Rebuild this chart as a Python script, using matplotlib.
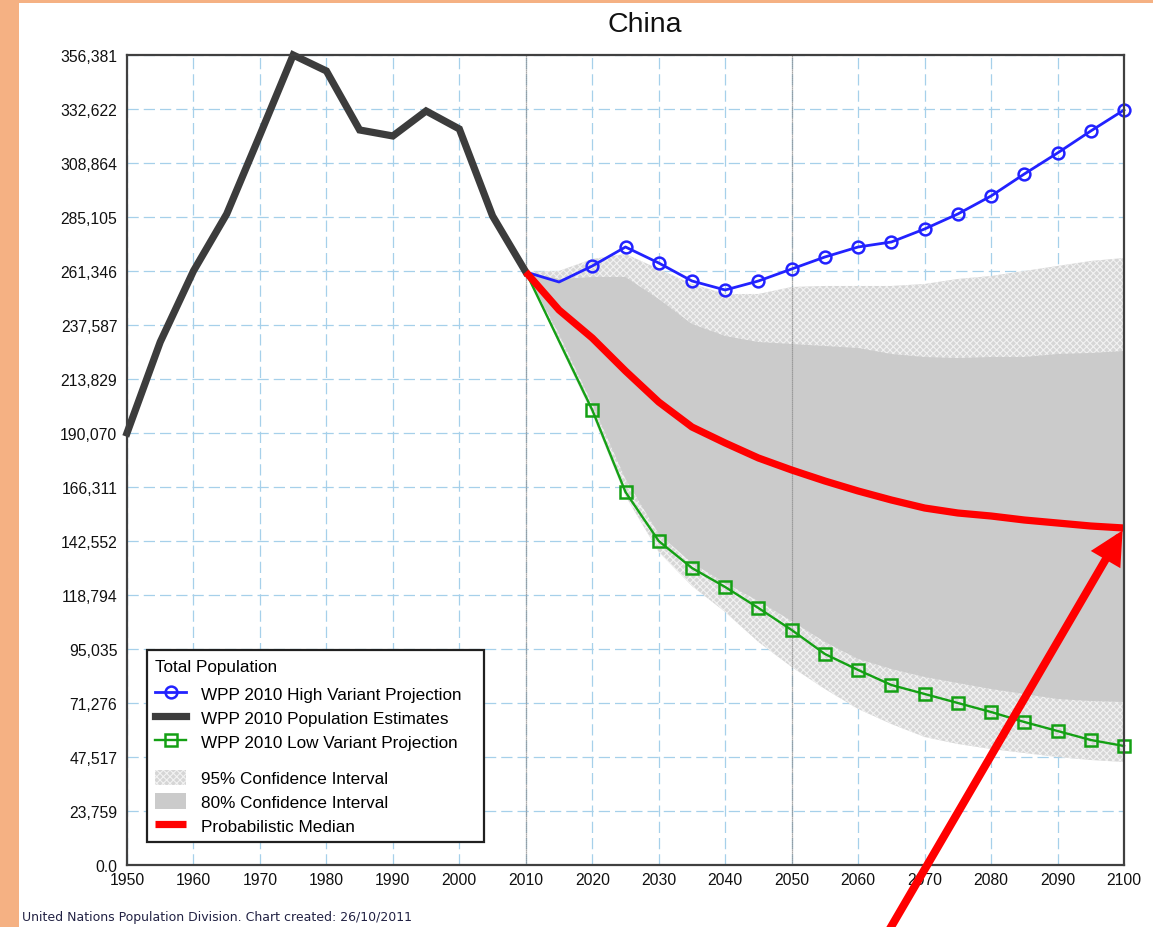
import matplotlib
matplotlib.use('Agg')
import matplotlib.pyplot as plt
from matplotlib.patches import Rectangle
from matplotlib.lines import Line2D

plt.rcParams['font.family'] = ['Liberation Sans', 'DejaVu Sans']
plt.rcParams['hatch.linewidth'] = 0.8

# ---------------- data ----------------
years_est = [1950, 1955, 1960, 1965, 1970, 1975, 1980, 1985, 1990, 1995, 2000, 2005, 2010]
pop_est = [190070, 230110, 261350, 286430, 321190, 356381, 349350, 323390, 320750,
           331750, 323830, 285550, 260910]

years_proj = [2010, 2015, 2020, 2025, 2030, 2035, 2040, 2045, 2050, 2055, 2060,
              2065, 2070, 2075, 2080, 2085, 2090, 2095, 2100]
high_variant = [260910, 256510, 263550, 271910, 264870, 256950, 252990, 256950, 262230,
                267510, 271910, 274110, 279830, 286430, 294350, 304030, 313270, 322950, 332190]
low_variant = [260910, 230550, 200190, 164110, 142550, 130670, 122310, 113070, 103400,
               92840, 85800, 79200, 75240, 71280, 67320, 62920, 58960, 55000, 52360]
prob_median = [260910, 244190, 231870, 217350, 203710, 192710, 185670, 179070, 173790,
               168950, 164550, 160590, 157070, 154870, 153550, 151790, 150470, 149150, 148270]
ci80_upper = [260910, 257830, 258710, 258710, 249030, 238030, 232750, 230110, 229230,
              228350, 227470, 224830, 223510, 223070, 223510, 223510, 224830, 225270, 226150]
ci80_lower = [260910, 233630, 202830, 169830, 145630, 132870, 124070, 116150, 107360,
              98120, 90640, 86240, 82720, 80080, 77440, 75240, 73040, 72160, 71720]
ci95_upper = [260910, 261350, 266630, 268830, 262230, 255630, 251230, 251230, 254310,
              254750, 254750, 254750, 255630, 257830, 259150, 261350, 263550, 265750, 267070]
ci95_lower = [260910, 229230, 198430, 162350, 137710, 122750, 111310, 98120, 87120,
              77440, 68640, 62040, 56320, 53240, 51040, 49280, 47520, 46200, 45320]

ytick_values = [0, 23759, 47517, 71276, 95035, 118794, 142552, 166311, 190070, 213829,
                237587, 261346, 285105, 308864, 332622, 356381]
ytick_labels = ['0.0', '23,759', '47,517', '71,276', '95,035', '118,794', '142,552',
                '166,311', '190,070', '213,829', '237,587', '261,346', '285,105',
                '308,864', '332,622', '356,381']
xtick_values = [1950, 1960, 1970, 1980, 1990, 2000, 2010, 2020, 2030, 2040, 2050,
                2060, 2070, 2080, 2090, 2100]
divider_years = [2010, 2050]

legend_labels = ['WPP 2010 High Variant Projection', 'WPP 2010 Population Estimates',
                 'WPP 2010 Low Variant Projection', '', '95% Confidence Interval',
                 '80% Confidence Interval', 'Probabilistic Median']

# ---------------- figure ----------------
W, H = 1153, 928
fig = plt.figure(figsize=(W / 100, H / 100), dpi=100)
fig.patch.set_facecolor('white')
orange = '#F5B183'
fig.patches.append(Rectangle((0, 0), 19 / W, 1, transform=fig.transFigure,
                             facecolor=orange, edgecolor='none', zorder=-5))
fig.patches.append(Rectangle((0, 1 - 4 / H), 1, 4 / H, transform=fig.transFigure,
                             facecolor=orange, edgecolor='none', zorder=-5))

L, R, T, B = 127, 1124, 56, 866
ax = fig.add_axes([L / W, 1 - B / H, (R - L) / W, (B - T) / H])
ax.set_xlim(1950, 2100)
ax.set_ylim(0, 356381)

ax.set_axisbelow(True)
ax.grid(True, color='#a6d0ea', linestyle=(0, (9, 4)), linewidth=0.9)
for yr in divider_years:
    ax.axvline(yr, color='#8c8c8c', linewidth=0.9, linestyle=(0, (1, 0.6)), zorder=2.5)

f95 = ax.fill_between(years_proj, ci95_lower, ci95_upper, facecolor='#d6d6d6',
                      edgecolor='#f2f2f2', hatch='xxxxx', linewidth=0, zorder=1)
f80 = ax.fill_between(years_proj, ci80_lower, ci80_upper, facecolor='#cbcbcb',
                      edgecolor='none', linewidth=0, zorder=1.5)

ln_high, = ax.plot(years_proj, high_variant, color='#2222ff', lw=2.0, marker='o',
                   markersize=8.5, markerfacecolor='none', markeredgewidth=1.8,
                   markevery=list(range(2, len(years_proj))), zorder=4, clip_on=False)
ln_low, = ax.plot(years_proj, low_variant, color='#14a014', lw=1.7, marker='s',
                  markersize=8.5, markerfacecolor='none', markeredgewidth=1.8,
                  markevery=list(range(2, len(years_proj))), zorder=4, clip_on=False)
ln_est, = ax.plot(years_est, pop_est, color='#3c3c3c', lw=5.2, zorder=5,
                  solid_joinstyle='miter', clip_on=False)
ln_med, = ax.plot(years_proj, prob_median, color='#ff0000', lw=5.2, zorder=6,
                  solid_capstyle='butt')

ax.set_yticks(ytick_values)
ax.set_yticklabels(ytick_labels)
ax.set_xticks(xtick_values)
ax.set_xticklabels([str(x) for x in xtick_values])
ax.tick_params(axis='both', length=0, labelsize=11.3, colors='#111111')
ax.tick_params(axis='y', pad=7)
ax.tick_params(axis='x', pad=5)
for sp in ax.spines.values():
    sp.set_color('#404040')
    sp.set_linewidth(1.6)
    sp.set_zorder(7)

# legend
spacer = Line2D([], [], alpha=0)
handles = [ln_high, ln_est, ln_low, spacer, f95, f80, ln_med]
leg_top = (B - 651) / (B - T)
leg_w = (484 - 147) / (R - L)
leg = ax.legend(handles, legend_labels, title='Total Population', loc='upper left',
                bbox_to_anchor=(0.02, leg_top, leg_w, 0), mode='expand', borderaxespad=0,
                fontsize=12.3, title_fontsize=12.3, alignment='left', frameon=True,
                fancybox=False, framealpha=1, edgecolor='#202020', handlelength=1.8,
                handleheight=1.0, handletextpad=0.85, labelspacing=0.42, borderpad=0.5,
                numpoints=1)
leg.get_frame().set_linewidth(1.6)
leg.set_zorder(10)
leg.get_texts()[3].set_fontsize(4.5)
try:
    leg._legend_box.sep = 0.42 * 12.3 + 3.6
    col = leg._legend_handle_box.get_children()[0]
    row = col.get_children()[3]
    da = row.get_children()[0]
    da.height = 3
except Exception:
    pass

# title and footer
fig.text(645 / W, 1 - 25 / H, 'China', ha='center', va='center', fontsize=20.5,
         color='#111111')
fig.text(22 / W, 1 - 918 / H, 'United Nations Population Division. Chart created: 26/10/2011',
         ha='left', va='center', fontsize=9.0, family=['DejaVu Sans'], color='#222244')

# red arrow pointing at the end of the median
ax.annotate('', xy=(years_proj[-1], prob_median[-1]), xycoords='data',
            xytext=(884, -12), textcoords='figure pixels', annotation_clip=False,
            arrowprops=dict(arrowstyle='-|>,head_length=0.75,head_width=0.38',
                            mutation_scale=20, color='#ff0000', lw=5.8,
                            shrinkA=0, shrinkB=2, joinstyle='miter'),
            zorder=12)

fig.savefig('out.png', dpi=100)
